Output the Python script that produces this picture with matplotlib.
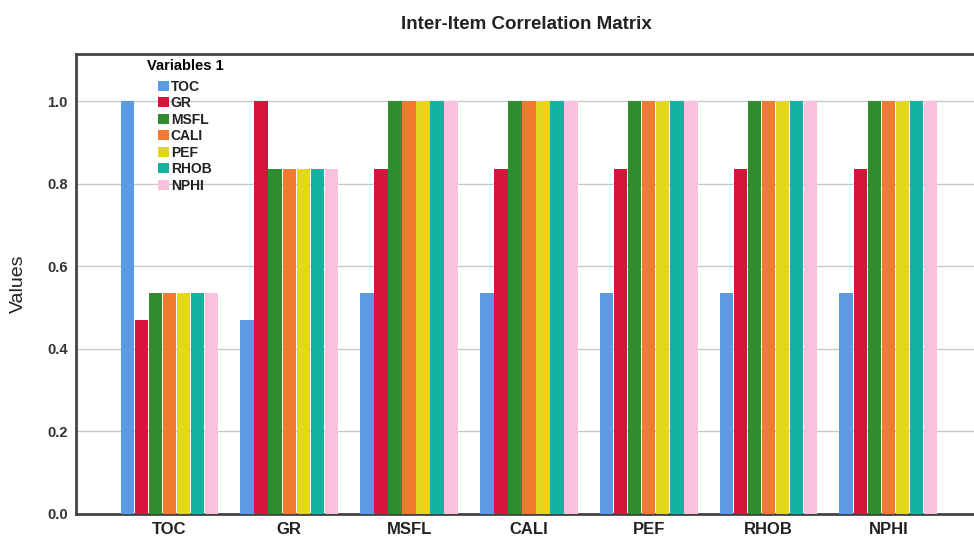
import matplotlib
matplotlib.use("Agg")
import matplotlib.pyplot as plt
import numpy as np

plt.rcParams['font.family'] = ['Liberation Sans', 'DejaVu Sans']

categories = ["TOC", "GR", "MSFL", "CALI", "PEF", "RHOB", "NPHI"]
series = ["TOC", "GR", "MSFL", "CALI", "PEF", "RHOB", "NPHI"]
# values[series][category]
toc = [1.0, 0.47, 0.535, 0.535, 0.535, 0.535, 0.535]
gr = [0.47, 1.0, 0.836, 0.836, 0.836, 0.836, 0.836]
msfl = [0.535, 0.836, 1.0, 1.0, 1.0, 1.0, 1.0]
cali = [0.535, 0.836, 1.0, 1.0, 1.0, 1.0, 1.0]
pef = [0.535, 0.836, 1.0, 1.0, 1.0, 1.0, 1.0]
rhob = [0.535, 0.836, 1.0, 1.0, 1.0, 1.0, 1.0]
nphi = [0.535, 0.836, 1.0, 1.0, 1.0, 1.0, 1.0]
values = [toc, gr, msfl, cali, pef, rhob, nphi]
yticks = [0.0, 0.2, 0.4, 0.6, 0.8, 1.0]

colors = ["#5b9be6", "#d6143c", "#2f8c2f", "#f37a31", "#e3d61c", "#14b2a0", "#f8c1dd"]

fig = plt.figure(figsize=(9.74, 5.41), dpi=100)
ax = fig.add_axes([0.078, 0.05, 0.93, 0.85])

n = len(series)
group_w = 0.82
bw = group_w / n
x = np.arange(len(categories))
for i, (name, vals) in enumerate(zip(series, values)):
    ax.bar(x - group_w / 2 + bw * (i + 0.5), vals, width=bw * 0.96, color=colors[i], label=name, zorder=3)

ax.set_xlim(-0.78, 6.78)
ax.set_ylim(0, 1.114)
ax.set_xticks(x)
ax.set_xticklabels(categories, fontsize=12, fontweight='bold', color='#222222')
ax.set_yticks(yticks)
ax.set_yticklabels([f"{t:.1f}" for t in yticks], fontsize=10.5, fontweight='bold', color='#333333')
ax.tick_params(axis='both', length=0)
ax.tick_params(axis='x', pad=6)
ax.tick_params(axis='y', pad=6)
ax.yaxis.grid(True, color='#c8c8c8', linewidth=1, zorder=0)
ax.set_axisbelow(True)
for s in ['left', 'top', 'bottom', 'right']:
    ax.spines[s].set_color('#444444')
    ax.spines[s].set_linewidth(2)

ax.set_ylabel("Values", fontsize=14, color='#222222')
ax.yaxis.set_label_coords(-0.054, 0.5)
fig.text(0.54, 0.955, "Inter-Item Correlation Matrix", ha='center', va='center',
         fontsize=13.5, fontweight='bold', color='#222222')

leg = ax.legend(title="Variables 1", loc='upper left', bbox_to_anchor=(0.078, 0.99), frameon=False,
                prop={'size': 10, 'weight': 'bold'}, handlelength=0.75, handleheight=0.75,
                handletextpad=0.15, labelspacing=0.18, borderpad=0, borderaxespad=0)
leg.get_title().set_fontsize(10.5)
leg.get_title().set_fontweight('bold')
leg._legend_box.sep = 5
for t in leg.get_texts():
    t.set_color('#222222')

fig.savefig("out.png", dpi=100)
